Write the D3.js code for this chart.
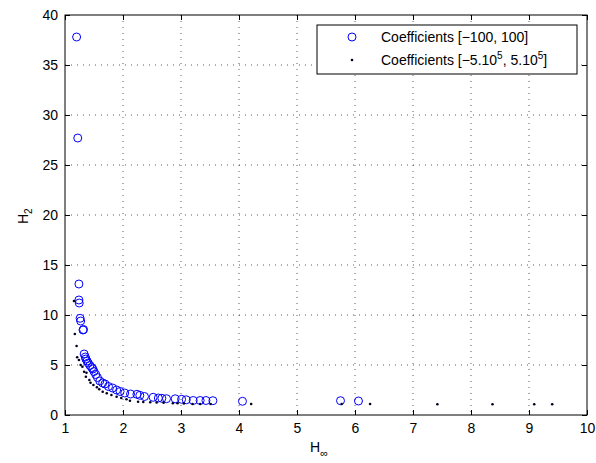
<!DOCTYPE html>
<html><head><meta charset="utf-8">
<script src="https://cdn.jsdelivr.net/npm/d3@7"></script>
<style>
body{margin:0;background:#fff;}
text{font-family:"Liberation Sans",Arial,Helvetica,sans-serif;}
</style></head>
<body><svg id="c" width="596" height="463"></svg>
<script>
const xTicks = [1,2,3,4,5,6,7,8,9,10];
const yTicks = [0,5,10,15,20,25,30,35,40];
const seriesNames = ["Coefficients [\u2212100, 100]", "Coefficients [\u22125.10", ", 5.10", "]"];
const circX = [1.20,1.22,1.24,1.24,1.245,1.26,1.27,1.31,1.32,1.33,1.35,1.36,1.38,1.40,1.43,1.46,1.48,1.50,1.53,1.56,1.60,1.65,1.69,1.75,1.82,1.89,1.95,2.03,2.13,2.24,2.29,2.37,2.52,2.61,2.67,2.75,2.90,3.01,3.09,3.21,3.33,3.43,3.55,4.06,5.75,6.06];
const circY = [37.8,27.7,13.1,11.5,11.2,9.67,9.4,8.5,8.55,6.1,5.8,5.6,5.4,5.2,4.95,4.75,4.6,4.35,4.05,3.75,3.4,3.2,3.1,2.85,2.7,2.5,2.35,2.2,2.1,2.07,1.97,1.85,1.77,1.7,1.67,1.63,1.62,1.57,1.52,1.45,1.45,1.45,1.43,1.37,1.43,1.4];
const dotX = [1.155,1.17,1.2,1.21,1.24,1.27,1.30,1.33,1.37,1.36,1.42,1.44,1.49,1.55,1.59,1.65,1.72,1.80,1.89,1.97,2.06,2.12,2.26,2.35,2.47,2.58,2.70,2.86,2.94,3.05,3.2,3.33,3.51,4.21,5.77,6.26,7.42,8.37,9.09,9.40];
const dotY = [11.4,8.1,6.9,5.77,5.5,5.0,4.83,4.33,4.23,3.83,3.5,3.23,3.0,2.77,2.57,2.33,2.17,2.0,1.83,1.7,1.57,1.43,1.33,1.3,1.27,1.25,1.23,1.17,1.17,1.15,1.1,1.1,1.1,1.1,1.1,1.1,1.07,1.07,1.07,1.07];

const L=65, R=587, T=15, B=415;
const FS=14;
const svg = d3.select("#c");
const x = d3.scaleLinear().domain([1,10]).range([L,R]);
const y = d3.scaleLinear().domain([0,40]).range([B,T]);

// grid
const g = svg.append("g");
g.selectAll(".gx").data(xTicks.slice(1,-1)).enter().append("line")
 .attr("x1",d=>x(d)).attr("x2",d=>x(d)).attr("y1",T).attr("y2",B)
 .attr("stroke","#333").attr("stroke-width",0.8).attr("stroke-dasharray","1,5");
g.selectAll(".gy").data(yTicks.slice(1,-1)).enter().append("line")
 .attr("y1",d=>y(d)).attr("y2",d=>y(d)).attr("x1",L).attr("x2",R)
 .attr("stroke","#333").attr("stroke-width",0.8).attr("stroke-dasharray","1,5");

// axes
const ax = svg.append("g").attr("transform",`translate(0,${B})`)
 .call(d3.axisBottom(x).tickValues(xTicks).tickSize(-5).tickPadding(8).tickFormat(d3.format("d")));
const ay = svg.append("g").attr("transform",`translate(${L},0)`)
 .call(d3.axisLeft(y).tickValues(yTicks).tickSize(-5).tickPadding(7).tickFormat(d3.format("d")));
const axT = svg.append("g").attr("transform",`translate(0,${T})`)
 .call(d3.axisTop(x).tickValues(xTicks).tickSize(-5).tickFormat(""));
const ayR = svg.append("g").attr("transform",`translate(${R},0)`)
 .call(d3.axisRight(y).tickValues(yTicks).tickSize(-5).tickFormat(""));
[ax,ay,axT,ayR].forEach(a=>{
  a.select(".domain").remove();
  a.selectAll("text").attr("font-size",FS).attr("fill","#000");
  a.selectAll("line").attr("stroke","#000");
});
svg.append("rect").attr("x",L).attr("y",T).attr("width",R-L).attr("height",B-T)
 .attr("fill","none").attr("stroke","#000").attr("stroke-width",1);

// data
svg.append("g").selectAll("circle").data(circX.map((d,i)=>[d,circY[i]])).enter().append("circle")
 .attr("cx",d=>x(d[0])).attr("cy",d=>y(d[1])).attr("r",4)
 .attr("fill","none").attr("stroke","#0000ff").attr("stroke-width",1);
svg.append("g").selectAll("circle").data(dotX.map((d,i)=>[d,dotY[i]])).enter().append("circle")
 .attr("cx",d=>x(d[0])).attr("cy",d=>y(d[1])).attr("r",1.3)
 .attr("fill","#000022");

// legend
const lg = svg.append("g");
lg.append("rect").attr("x",317).attr("y",25).attr("width",260).attr("height",49)
 .attr("fill","#fff").attr("stroke","#000").attr("stroke-width",1);
lg.append("circle").attr("cx",352).attr("cy",37).attr("r",4).attr("fill","none").attr("stroke","#0000ff");
lg.append("circle").attr("cx",352).attr("cy",60).attr("r",1.3).attr("fill","#000022");
lg.append("text").attr("x",381).attr("y",42).attr("font-size",FS).text(seriesNames[0]);
const t2 = lg.append("text").attr("x",381).attr("y",65).attr("font-size",FS);
t2.append("tspan").text(seriesNames[1]);
t2.append("tspan").attr("dy",-6).attr("font-size",10).text("5");
t2.append("tspan").attr("dy",6).text(seriesNames[2]);
t2.append("tspan").attr("dy",-6).attr("font-size",10).text("5");
t2.append("tspan").attr("dy",6).text(seriesNames[3]);

// axis labels
const xl = svg.append("text").attr("x",310).attr("y",452).attr("font-size",FS);
xl.append("tspan").text("H");
xl.append("tspan").attr("dy",5).attr("font-size",11).text("\u221e");
const yl = svg.append("text").attr("transform","translate(28,224) rotate(-90)").attr("font-size",FS);
yl.append("tspan").text("H");
yl.append("tspan").attr("dy",4).attr("font-size",10).text("2");
</script></body></html>
